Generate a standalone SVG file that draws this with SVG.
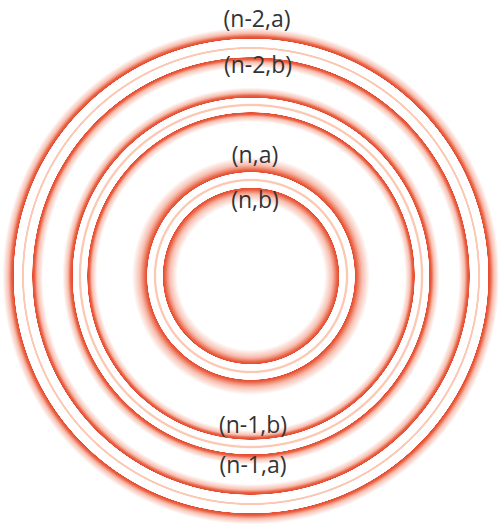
<svg xmlns="http://www.w3.org/2000/svg" width="498" height="526" viewBox="0 0 498 526">
<style>
.lbl{font-family:"Open Sans","Liberation Sans",sans-serif;font-size:23px;fill:#333333;text-anchor:middle}
</style>
<defs>
<radialGradient id="gOuter" gradientUnits="userSpaceOnUse" cx="251" cy="276" r="250">
<stop offset="0%" stop-color="#f08468" stop-opacity="0"/>
<stop offset="83.2%" stop-color="#f08468" stop-opacity="0"/>
<stop offset="85.4%" stop-color="#f08468" stop-opacity="0.5"/>
<stop offset="86.6%" stop-color="#ea6244" stop-opacity="1"/>
<stop offset="87.4%" stop-color="#e54a30" stop-opacity="1"/>
<stop offset="87.6%" stop-color="#ffffff" stop-opacity="0"/>
<stop offset="90.6%" stop-color="#ffffff" stop-opacity="0"/>
<stop offset="90.9%" stop-color="#fbc9b3" stop-opacity="1"/>
<stop offset="91.5%" stop-color="#fbc9b3" stop-opacity="1"/>
<stop offset="91.8%" stop-color="#ffffff" stop-opacity="0"/>
<stop offset="94.8%" stop-color="#ffffff" stop-opacity="0"/>
<stop offset="95.0%" stop-color="#e54a30" stop-opacity="1"/>
<stop offset="95.8%" stop-color="#ea6244" stop-opacity="1"/>
<stop offset="97.2%" stop-color="#f08468" stop-opacity="0.5"/>
<stop offset="99.4%" stop-color="#f08468" stop-opacity="0"/>
<stop offset="100%" stop-color="#f08468" stop-opacity="0"/>
</radialGradient>
<radialGradient id="gMiddle" gradientUnits="userSpaceOnUse" cx="251" cy="276" r="250">
<stop offset="0%" stop-color="#f08468" stop-opacity="0"/>
<stop offset="61.6%" stop-color="#f08468" stop-opacity="0"/>
<stop offset="63.6%" stop-color="#f08468" stop-opacity="0.5"/>
<stop offset="64.6%" stop-color="#ea6244" stop-opacity="1"/>
<stop offset="65.4%" stop-color="#e54a30" stop-opacity="1"/>
<stop offset="65.6%" stop-color="#ffffff" stop-opacity="0"/>
<stop offset="67.6%" stop-color="#ffffff" stop-opacity="0"/>
<stop offset="68.1%" stop-color="#fbc9b3" stop-opacity="1"/>
<stop offset="68.7%" stop-color="#fbc9b3" stop-opacity="1"/>
<stop offset="69.2%" stop-color="#ffffff" stop-opacity="0"/>
<stop offset="71.2%" stop-color="#ffffff" stop-opacity="0"/>
<stop offset="71.4%" stop-color="#e54a30" stop-opacity="1"/>
<stop offset="72.2%" stop-color="#ea6244" stop-opacity="1"/>
<stop offset="73.4%" stop-color="#f08468" stop-opacity="0.5"/>
<stop offset="75.4%" stop-color="#f08468" stop-opacity="0"/>
<stop offset="100%" stop-color="#f08468" stop-opacity="0"/>
</radialGradient>
<radialGradient id="gInner" gradientUnits="userSpaceOnUse" cx="251" cy="276" r="250">
<stop offset="0%" stop-color="#f08468" stop-opacity="0"/>
<stop offset="29.4%" stop-color="#f08468" stop-opacity="0"/>
<stop offset="32.4%" stop-color="#f08468" stop-opacity="0.5"/>
<stop offset="34.4%" stop-color="#ea6244" stop-opacity="1"/>
<stop offset="35.2%" stop-color="#e54a30" stop-opacity="1"/>
<stop offset="35.4%" stop-color="#ffffff" stop-opacity="0"/>
<stop offset="37.6%" stop-color="#ffffff" stop-opacity="0"/>
<stop offset="38.1%" stop-color="#fbc9b3" stop-opacity="1"/>
<stop offset="38.7%" stop-color="#fbc9b3" stop-opacity="1"/>
<stop offset="39.2%" stop-color="#ffffff" stop-opacity="0"/>
<stop offset="41.4%" stop-color="#ffffff" stop-opacity="0"/>
<stop offset="41.6%" stop-color="#e54a30" stop-opacity="1"/>
<stop offset="42.4%" stop-color="#ea6244" stop-opacity="1"/>
<stop offset="44.6%" stop-color="#f08468" stop-opacity="0.5"/>
<stop offset="47.6%" stop-color="#f08468" stop-opacity="0"/>
<stop offset="100%" stop-color="#f08468" stop-opacity="0"/>
</radialGradient>
</defs>
<rect width="498" height="526" fill="#ffffff"/>
<g id="ring-n-2">
<circle cx="251" cy="276" r="250" fill="url(#gOuter)"/>
<text class="lbl" x="257" y="27">(n-2,a)</text>
<text class="lbl" x="258" y="73">(n-2,b)</text>
</g>
<g id="ring-n-1">
<circle cx="251" cy="276" r="250" fill="url(#gMiddle)"/>
<text class="lbl" x="253" y="433">(n-1,b)</text>
<text class="lbl" x="253" y="473">(n-1,a)</text>
</g>
<g id="ring-n">
<circle cx="251" cy="276" r="250" fill="url(#gInner)"/>
<text class="lbl" x="255" y="163">(n,a)</text>
<text class="lbl" x="255" y="208">(n,b)</text>
</g>
<g id="connectors"/>
</svg>
